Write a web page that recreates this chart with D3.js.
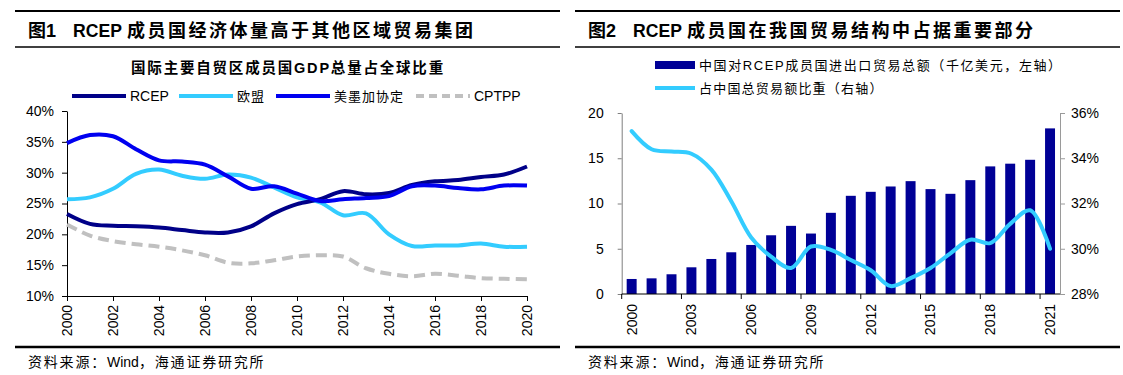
<!DOCTYPE html>
<html>
<head>
<meta charset="utf-8">
<script src="https://cdn.jsdelivr.net/npm/d3@7"></script>
<style>
  body { margin: 0; background: #fff; }
  svg { font-family: "Liberation Sans", Arial, "Noto Sans CJK SC", sans-serif; }
  .axis text { font-size: 14px; fill: #000; }
</style>
</head>
<body>
<div id="chart"></div>
<script>
// ---- data: chart 1 (GDP share, %) ----
let years1 = [2000, 2001, 2002, 2003, 2004, 2005, 2006, 2007, 2008, 2009, 2010, 2011, 2012, 2013, 2014, 2015, 2016, 2017, 2018, 2019, 2020]
let xTicks1 = [2000, 2002, 2004, 2006, 2008, 2010, 2012, 2014, 2016, 2018, 2020]
let yTicks1 = [10, 15, 20, 25, 30, 35, 40]
let rcep = [23.3, 21.7, 21.4, 21.3, 21.1, 20.7, 20.3, 20.3, 21.3, 23.4, 24.9, 25.7, 27.0, 26.5, 26.7, 28.0, 28.6, 28.8, 29.3, 29.7, 31.0]
let eu = [25.7, 26.0, 27.4, 29.8, 30.5, 29.5, 29.0, 29.7, 29.2, 27.6, 26.0, 25.2, 23.1, 23.4, 20.0, 18.1, 18.2, 18.2, 18.5, 18.0, 18.0]
let usmca = [34.8, 36.1, 35.9, 33.8, 32.0, 31.8, 31.3, 29.4, 27.4, 27.8, 26.6, 25.4, 25.7, 25.9, 26.2, 27.8, 27.9, 27.5, 27.3, 27.9, 27.9]
let cptpp = [21.6, 19.8, 18.9, 18.4, 18.0, 17.4, 16.6, 15.4, 15.3, 15.8, 16.4, 16.6, 16.4, 14.5, 13.6, 13.2, 13.6, 13.3, 12.9, 12.8, 12.7]
let seriesNames1 = ["RCEP", "欧盟", "美墨加协定", "CPTPP"]

// ---- data: chart 2 (trade with RCEP) ----
let years2 = [2000, 2001, 2002, 2003, 2004, 2005, 2006, 2007, 2008, 2009, 2010, 2011, 2012, 2013, 2014, 2015, 2016, 2017, 2018, 2019, 2020, 2021]
let xLabels2 = [2000, 2003, 2006, 2009, 2012, 2015, 2018, 2021]
let leftTicks2 = [0, 5, 10, 15, 20]
let rightTicks2 = [28, 30, 32, 34, 36]
let tradeTotal = [1.66, 1.73, 2.18, 2.95, 3.87, 4.61, 5.42, 6.49, 7.53, 6.68, 8.97, 10.85, 11.29, 11.88, 12.47, 11.59, 11.07, 12.58, 14.1, 14.4, 14.83, 18.3]
let tradeShare = [35.2, 34.4, 34.3, 34.2, 33.5, 32.1, 30.5, 29.65, 29.15, 30.1, 29.95, 29.5, 29.05, 28.35, 28.7, 29.15, 29.8, 30.4, 30.25, 31.1, 31.7, 30.0]

let svg = d3.select("#chart").append("svg")
    .attr("width", 1123)
    .attr("height", 375)

// title blocks + rules
function panelFrame(x0, x1, fig, title) {
    svg.append("line").attr("x1", x0).attr("x2", x1).attr("y1", 11).attr("y2", 11)
        .attr("stroke", "#000").attr("stroke-width", 2)
    svg.append("line").attr("x1", x0).attr("x2", x1).attr("y1", 47).attr("y2", 47)
        .attr("stroke", "#000").attr("stroke-width", 1.5)
    svg.append("line").attr("x1", x0).attr("x2", x1).attr("y1", 347).attr("y2", 347)
        .attr("stroke", "#000").attr("stroke-width", 2.5)

    let t = svg.append("text").attr("y", 37)
        .style("font-size", "18px").style("font-weight", "bold")
    t.append("tspan").attr("x", x0 + 13).text(fig)
    t.append("tspan").attr("x", x0 + 58).style("font-size", "17.6px").text("RCEP")
    t.append("tspan").attr("x", x0 + 112).style("letter-spacing", "2.5px").text(title)

    let f = svg.append("text").attr("y", 367).style("font-size", "14px")
    f.append("tspan").attr("x", x0 + 13).style("letter-spacing", "1.8px").text("资料来源：")
    f.append("tspan").attr("x", x0 + 92).text("Wind")
    f.append("tspan").attr("x", x0 + 124).style("letter-spacing", "1.8px").text("，海通证券研究所")
}
panelFrame(15, 560, "图1", "成员国经济体量高于其他区域贸易集团")
panelFrame(575, 1120, "图2", "成员国在我国贸易结构中占据重要部分")

/* * * * * chart 1 * * * * */
let g1 = svg.append("g")
let x1 = d3.scaleLinear().domain([2000, 2020]).range([67, 527])
let y1 = d3.scaleLinear().domain([10, 40]).range([296, 111])

g1.append("text").attr("x", 288).attr("y", 73).attr("text-anchor", "middle")
    .style("font-size", "14.5px").style("font-weight", "bold").style("letter-spacing", "1.8px")
    .text("国际主要自贸区成员国GDP总量占全球比重")

g1.append("g").attr("class", "axis")
    .attr("transform", "translate(67,0)")
    .call(d3.axisLeft(y1).tickValues(yTicks1).tickFormat(d => d + "%").tickSize(5).tickSizeOuter(0).tickPadding(8))

let xa1 = g1.append("g").attr("class", "axis")
    .attr("transform", "translate(0,296)")
    .call(d3.axisBottom(x1).tickValues(xTicks1).tickFormat(d3.format("d")).tickSize(5).tickSizeOuter(0))
xa1.selectAll("text")
    .attr("transform", "rotate(-90)")
    .attr("x", -9).attr("y", 0).attr("dy", "0.35em")
    .style("text-anchor", "end")

let series1 = [
    {name: seriesNames1[0], values: rcep, color: "#000088", dash: null},
    {name: seriesNames1[1], values: eu, color: "#33CCFF", dash: null},
    {name: seriesNames1[2], values: usmca, color: "#0000F0", dash: null},
    {name: seriesNames1[3], values: cptpp, color: "#C0C0C0", dash: "11,6"}
]
let line1 = d3.line()
    .x((d, i) => x1(years1[i]))
    .y(d => y1(d))
    .curve(d3.curveCatmullRom.alpha(0.5))

// draw order: grey at back
;[3, 1, 0, 2].forEach(k => {
    let s = series1[k]
    g1.append("path").datum(s.values)
        .attr("d", line1)
        .attr("fill", "none")
        .attr("stroke", s.color)
        .attr("stroke-width", 4)
        .attr("stroke-dasharray", s.dash)
})

// legend chart 1
let legX = [72, 179, 276, 416]
series1.forEach((s, i) => {
    g1.append("line").attr("x1", legX[i]).attr("x2", legX[i] + 54).attr("y1", 96).attr("y2", 96)
        .attr("stroke", s.color).attr("stroke-width", 4).attr("stroke-dasharray", s.dash ? "8,5" : null)
    let cjk = i === 1 || i === 2
    g1.append("text").attr("x", legX[i] + 58).attr("y", 101)
        .style("font-size", cjk ? "13px" : "14px").style("letter-spacing", cjk ? "1px" : null)
        .text(s.name)
})

/* * * * * chart 2 * * * * */
let g2 = svg.append("g")
let xb = d3.scaleBand().domain(years2).range([621.7, 1060]).paddingInner(0.5).paddingOuter(0.25)
let yL = d3.scaleLinear().domain([0, 20]).range([294, 113])
let yR = d3.scaleLinear().domain([28, 36]).range([294, 113])
let step = xb.step()

g2.selectAll(".bar").data(tradeTotal).enter().append("rect")
    .attr("class", "bar")
    .attr("x", (d, i) => xb(years2[i]))
    .attr("width", xb.bandwidth())
    .attr("y", d => yL(d))
    .attr("height", d => yL(0) - yL(d))
    .attr("fill", "#000096")

let line2 = d3.line()
    .x((d, i) => xb(years2[i]) + xb.bandwidth() / 2)
    .y(d => yR(d))
    .curve(d3.curveCatmullRom.alpha(0.5))
g2.append("path").datum(tradeShare)
    .attr("d", line2)
    .attr("fill", "none")
    .attr("stroke", "#33CCFF")
    .attr("stroke-width", 4)
    .attr("stroke-linecap", "round")

let yla = g2.append("g").attr("class", "axis")
    .attr("transform", "translate(621.7,0)")
    .call(d3.axisLeft(yL).tickValues(leftTicks2).tickSize(4).tickSizeOuter(0).tickPadding(14))
let yra = g2.append("g").attr("class", "axis")
    .attr("transform", "translate(1060,0)")
    .call(d3.axisRight(yR).tickValues(rightTicks2).tickFormat(d => d + "%").tickSize(5).tickSizeOuter(0).tickPadding(6))
yla.selectAll("path, line").attr("stroke", "#7f7f7f")
yra.selectAll("path, line").attr("stroke", "#9a9a9a")

// x axis: ticks on category boundaries, labels on category centres
let xa2 = g2.append("g").attr("class", "axis").attr("transform", "translate(0,294)")
xa2.append("line").attr("x1", 621.7).attr("x2", 1060).attr("stroke", "#000")
xa2.selectAll(".tk").data(xLabels2).enter().append("line")
    .attr("x1", d => xb(d) - step * 0.25).attr("x2", d => xb(d) - step * 0.25)
    .attr("y1", 0).attr("y2", 5).attr("stroke", "#000")
xa2.selectAll(".lb").data(xLabels2).enter().append("text")
    .attr("transform", d => `translate(${xb(d) + xb.bandwidth() / 2},10) rotate(-90)`)
    .attr("dy", "0.35em")
    .style("text-anchor", "end")
    .text(d => d)

// legend chart 2
g2.append("rect").attr("x", 655).attr("y", 61).attr("width", 40).attr("height", 8).attr("fill", "#000096")
g2.append("text").attr("x", 699).attr("y", 70).style("font-size", "13px").style("letter-spacing", "1.6px")
    .text("中国对RCEP成员国进出口贸易总额（千亿美元，左轴）")
g2.append("line").attr("x1", 655).attr("x2", 695).attr("y1", 88).attr("y2", 88)
    .attr("stroke", "#33CCFF").attr("stroke-width", 4)
g2.append("text").attr("x", 699).attr("y", 93).style("font-size", "13px").style("letter-spacing", "1.2px")
    .text("占中国总贸易额比重（右轴）")
</script>
</body>
</html>
